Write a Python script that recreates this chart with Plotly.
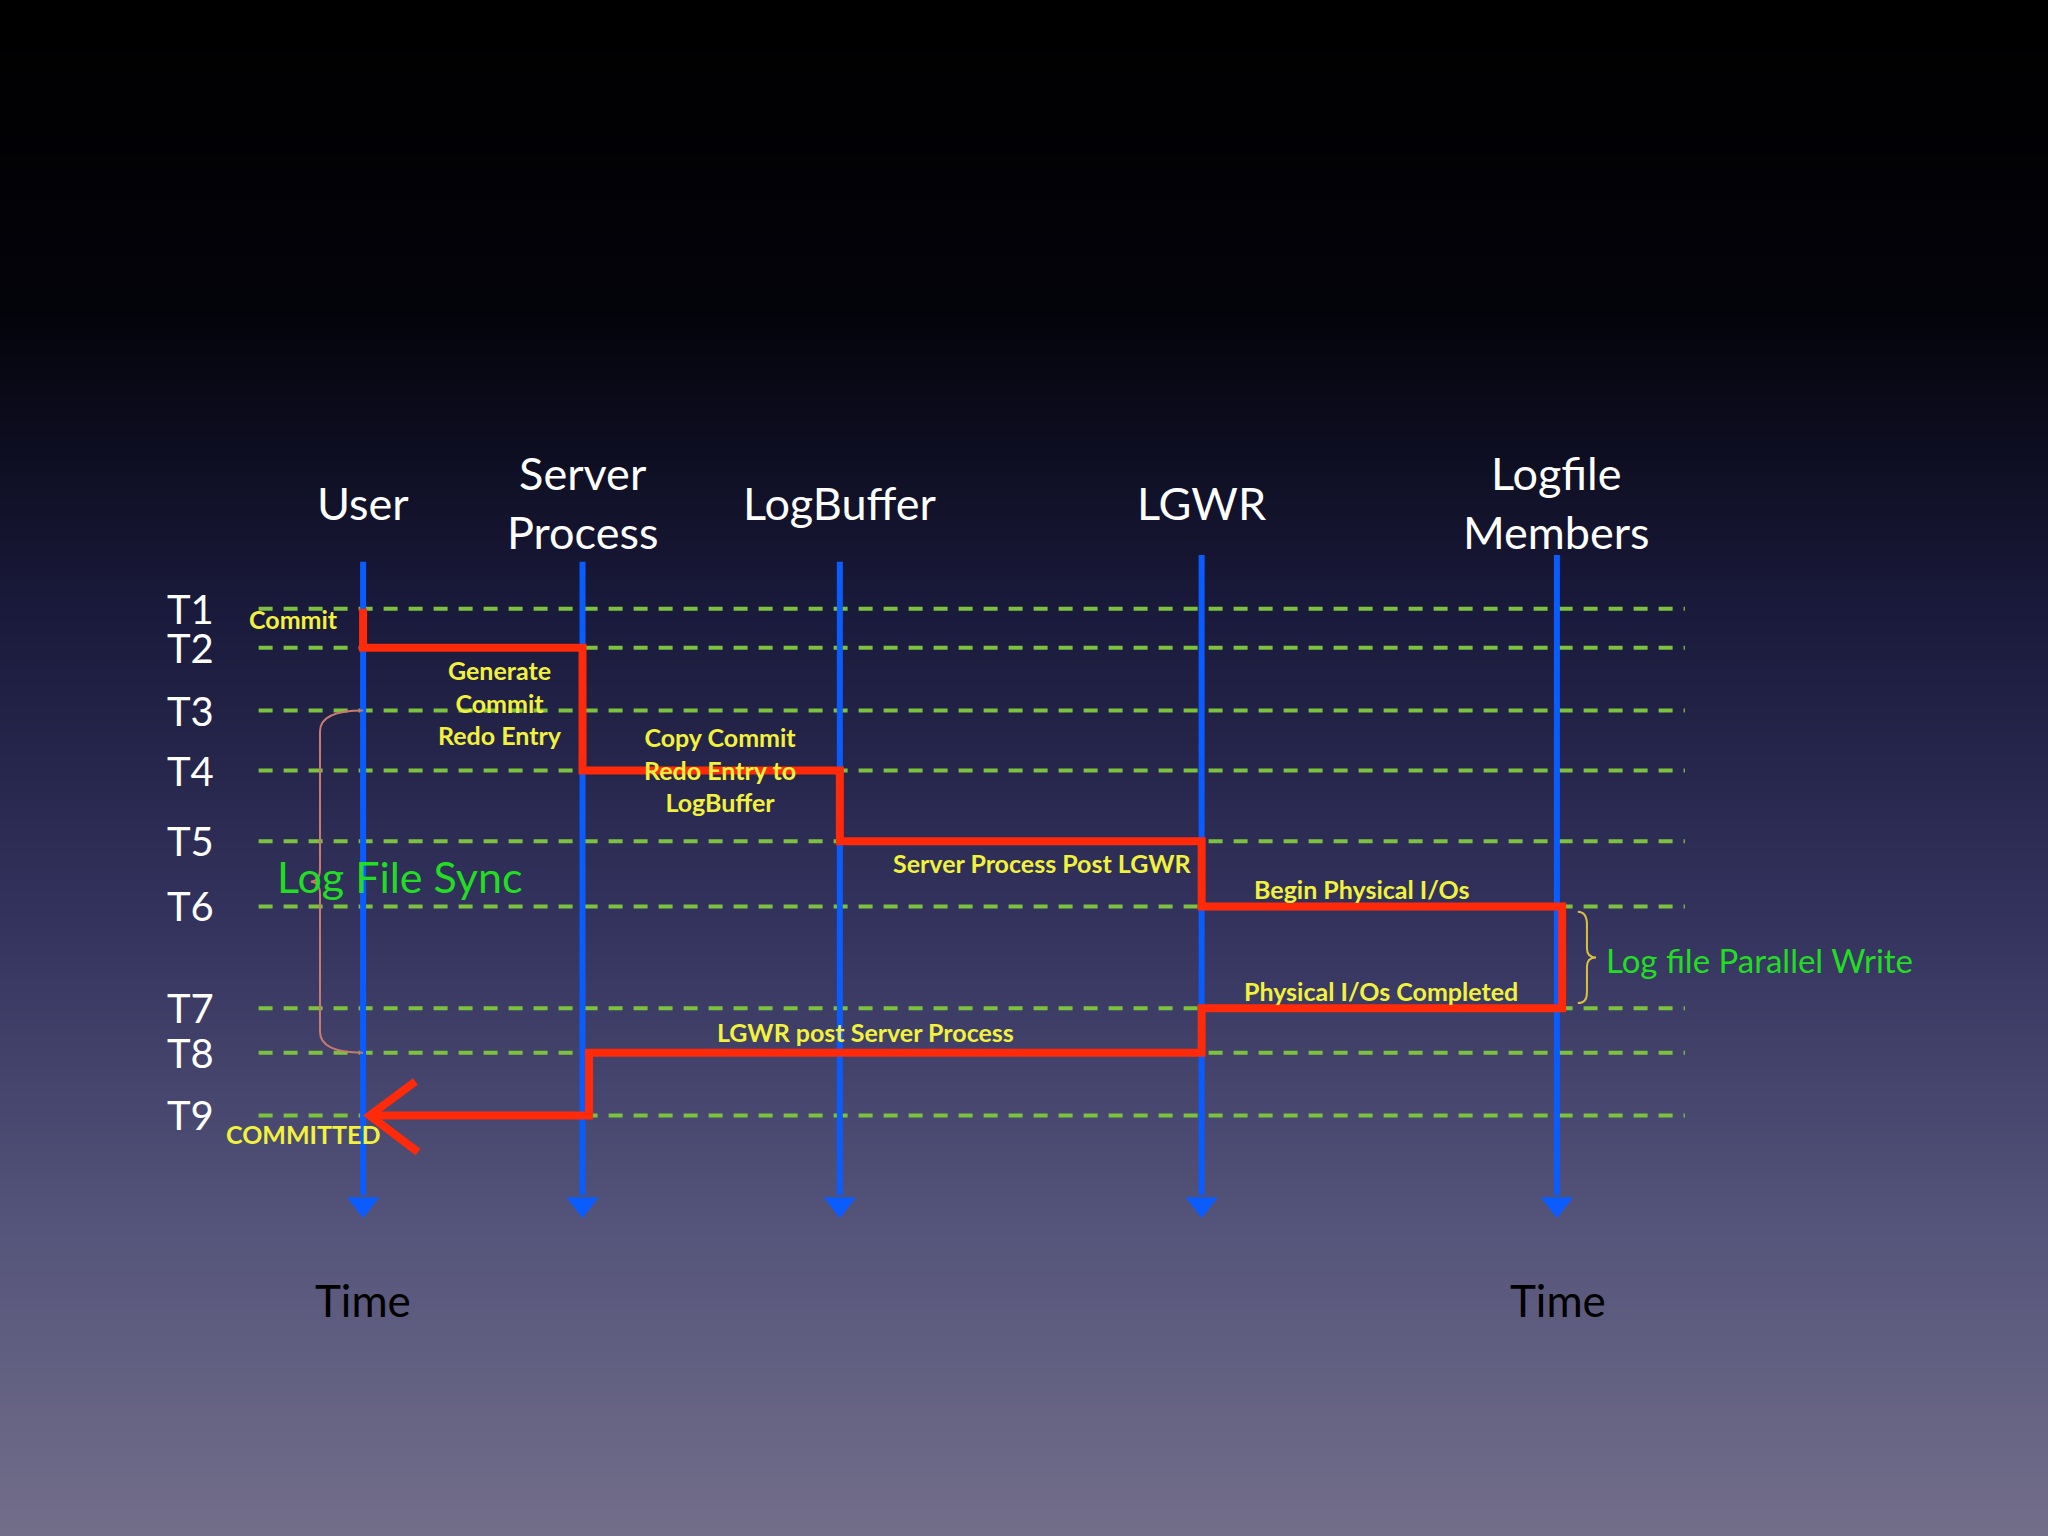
import plotly.graph_objects as go
import numpy as np

columns = ["User", "Server<br>Process", "LogBuffer", "LGWR", "Logfile<br>Members"]
col_x = [278, 446, 643, 920, 1192]
t_labels = ["T1", "T2", "T3", "T4", "T5", "T6", "T7", "T8", "T9"]
t_y = [466, 496, 544, 590, 644, 694, 772, 806, 854]
# red path: sequence of (column index, level index)
path_cols = [0, 0, 1, 1, 2, 2, 3, 3, 4, 4, 3, 3, 1, 1, 0]
path_lvls = [0, 1, 1, 3, 3, 4, 4, 5, 5, 6, 6, 7, 7, 8, 8]

W, H = 1568, 1176
fig = go.Figure()

ys = np.linspace(0, H, 60)
fig.add_trace(go.Heatmap(x=[0, W], y=ys, z=[[v, v] for v in ys], showscale=False,
                         colorscale=[[0, "#000000"], [0.2, "#03030a"], [0.4, "#1a1a3c"],
                                     [0.6, "#33335e"], [0.8, "#55547a"], [1, "#726e8a"]],
                         hoverinfo="skip", zsmooth="best"))

for y in t_y:
    fig.add_trace(go.Scatter(x=[198, 1290], y=[y, y], mode="lines",
                             line=dict(color="#7cc23f", width=4, dash="14px,11px"), hoverinfo="skip"))

for i, x in enumerate(col_x):
    top = 430 if i < 3 else 425
    fig.add_trace(go.Scatter(x=[x, x], y=[top, 915], mode="lines",
                             line=dict(color="#0b5cff", width=6), hoverinfo="skip"))
    fig.add_trace(go.Scatter(x=[x], y=[922], mode="markers",
                             marker=dict(symbol="triangle-down", size=28, color="#0b5cff"), hoverinfo="skip"))

px = [col_x[c] for c in path_cols]
px[-3] = px[-2] = col_x[1] + 5
px[8] = px[9] = col_x[4] + 4
px[-1] = col_x[0] + 6
py = [t_y[l] for l in path_lvls]
fig.add_trace(go.Scatter(x=px, y=py, mode="lines", line=dict(color="#ff2a0a", width=8), hoverinfo="skip"))
yr = t_y[8]
fig.add_trace(go.Scatter(x=[318, 283, 320], y=[yr - 26, yr, yr + 28], mode="lines",
                         line=dict(color="#ff2a0a", width=8), hoverinfo="skip"))

for name, x in zip(columns, col_x):
    fig.add_annotation(x=x, y=385, text=name, showarrow=False,
                       font=dict(family="Lato", size=45, color="white"))
for lab, y in zip(t_labels, t_y):
    fig.add_annotation(x=146, y=y, text=lab, showarrow=False,
                       font=dict(family="Lato", size=40, color="white"))

yel = "#f2f23c"
notes = [
    ("Commit", 225, 474), ("Generate<br>Commit<br>Redo Entry", 383, 538),
    ("Copy Commit<br>Redo Entry to<br>LogBuffer", 551, 589),
    ("Server Process Post LGWR", 798, 661), ("Begin Physical I/Os", 1043, 681),
    ("Physical I/Os Completed", 1057, 759), ("LGWR post Server Process", 663, 790),
    ("COMMITTED", 232, 868),
]
for t, x, y in notes:
    fig.add_annotation(x=x, y=y, text="<b>" + t.replace("<br>", "</b><br><b>") + "</b>", showarrow=False,
                       font=dict(family="Lato", size=25, color=yel), align="center")

fig.add_annotation(x=306, y=671, text="Log File Sync", showarrow=False,
                   font=dict(family="Lato", size=43, color="#22dd22"))
fig.add_annotation(x=1228, y=735, text="Log file Parallel Write", showarrow=False, xanchor="left",
                   font=dict(family="Lato", size=33, color="#22dd22"))
for x in (278, 1193):
    fig.add_annotation(x=x, y=995, text="Time", showarrow=False,
                       font=dict(family="Lato", size=44, color="black"))

fig.add_shape(type="path", path=("M 278,544 Q 245,544 245,560 L 245,665 Q 245,675 238,675 "
                                 "Q 245,675 245,685 L 245,790 Q 245,806 278,806"),
              line=dict(color="#c87a70", width=2))
fig.add_shape(type="path", path=("M 1208,698 Q 1215,698 1215,708 L 1215,726 Q 1215,733 1222,733 "
                                 "Q 1215,733 1215,740 L 1215,760 Q 1215,768 1208,768"),
              line=dict(color="#d8c040", width=2))

fig.update_layout(width=2048, height=1536, margin=dict(l=0, r=0, t=0, b=0), showlegend=False,
                  plot_bgcolor="black", paper_bgcolor="black",
                  xaxis=dict(range=[0, W], visible=False, fixedrange=True),
                  yaxis=dict(range=[H, 0], visible=False, fixedrange=True))
fig.write_html("out.html", config={"displayModeBar": False})
with open("out.html", encoding="utf-8") as f:
    html = f.read()
html = html.replace("<body>", '<body style="margin:0;background:#000">', 1)
with open("out.html", "w", encoding="utf-8") as f:
    f.write(html)
